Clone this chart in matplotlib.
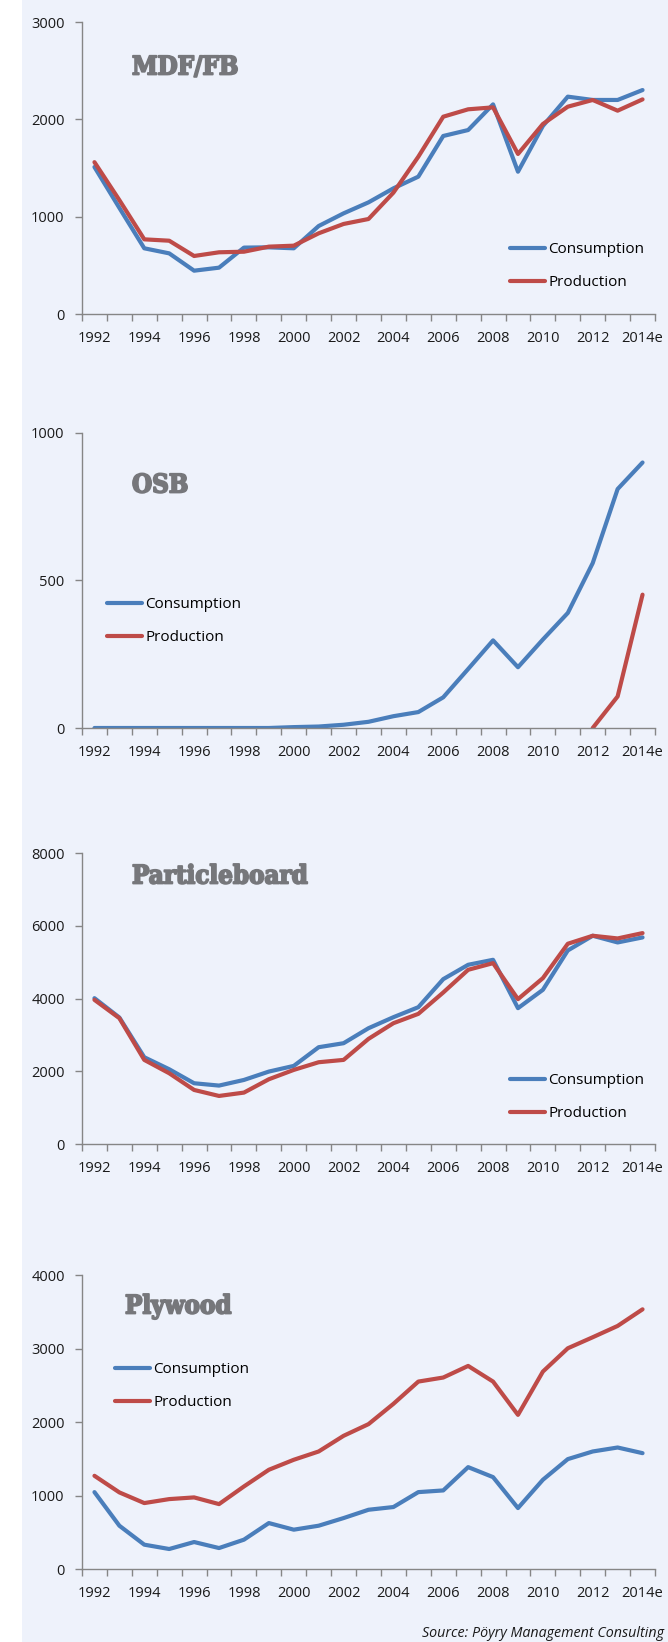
import numpy as np
import matplotlib.pyplot as plt
import matplotlib.patheffects as pe
from matplotlib.patches import Rectangle

# Years on the x axis (categorical, one slot per year)
years = list(range(1992, 2015))
year_labels = ['1992', '1994', '1996', '1998', '2000', '2002', '2004',
               '2006', '2008', '2010', '2012', '2014e']

# MDF/FB, 1000 m3
mdf_cons = [1510, 1090, 675, 623, 445, 476, 682, 685, 675, 904, 1034, 1147,
            1291, 1411, 1829, 1890, 2154, 1462, 1932, 2233, 2199, 2199, 2301]
mdf_prod = [1560, 1170, 767, 753, 596, 634, 640, 692, 702, 829, 925, 976,
            1247, 1616, 2027, 2103, 2123, 1644, 1952, 2130, 2199, 2089, 2205]

# OSB
osb_cons = [0, 0, 0, 0, 0, 0, 0, 0, 3, 5, 11, 21,
            40, 54, 104, 200, 297, 206, 300, 390, 559, 810, 900]
osb_prod = [np.nan] * 20 + [0, 107, 452]

# Particleboard
pb_cons = [4009, 3477, 2385, 2055, 1670, 1606, 1761, 1991, 2147, 2661, 2771, 3183,
           3486, 3761, 4532, 4927, 5064, 3734, 4239, 5321, 5725, 5541, 5679]
pb_prod = [3963, 3459, 2312, 1945, 1486, 1321, 1413, 1780, 2037, 2248, 2312, 2890,
           3321, 3578, 4165, 4789, 4972, 3982, 4560, 5505, 5725, 5651, 5798]

# Plywood
ply_cons = [1046, 589, 331, 272, 367, 285, 399, 625, 535, 589, 693, 806,
            843, 1046, 1069, 1386, 1250, 829, 1214, 1495, 1599, 1653, 1576]
ply_prod = [1268, 1042, 897, 951, 974, 883, 1123, 1350, 1486, 1599, 1812, 1971,
            2247, 2550, 2605, 2763, 2550, 2097, 2686, 3003, 3153, 3307, 3533]

BLUE = '#4a7ebb'
RED = '#be4b48'
AXIS = '#868686'
BG = '#eef2fb'
TITLE = '#76777b'

W, H = 668, 1642
plt.rcParams['font.family'] = ['Open Sans', 'DejaVu Sans']

fig = plt.figure(figsize=(W / 100, H / 100), dpi=100)
fig.patches.append(Rectangle((22 / W, 0), 1 - 22 / W, 1, transform=fig.transFigure,
                             facecolor=BG, edgecolor='none', zorder=-10))


def px_axes(left, top, right, bottom):
    return fig.add_axes([left / W, 1 - bottom / H, (right - left) / W, (bottom - top) / H])


def panel(box, cons, prod, ymax, ystep, title, title_xy, leg_xy):
    ax = px_axes(*box)
    ax.patch.set_alpha(0)
    x = np.arange(len(years))
    ax.plot(x, cons, color=BLUE, lw=3, solid_capstyle='round', label='Consumption')
    ax.plot(x, prod, color=RED, lw=3, solid_capstyle='round', label='Production')
    ax.set_xlim(-0.5, len(years) - 0.5)
    ax.set_ylim(0, ymax)
    for s in ['top', 'right']:
        ax.spines[s].set_visible(False)
    for s in ['left', 'bottom']:
        ax.spines[s].set_color(AXIS)
        ax.spines[s].set_linewidth(1)
    ax.set_yticks(np.arange(0, ymax + 1, ystep))
    ax.tick_params(axis='y', length=5, width=1, color=AXIS, pad=7.5,
                   labelsize=10.5, labelcolor='#1a1a1a')
    # tick marks between the years, labels under every other year
    ax.set_xticks(np.arange(-0.5, len(years), 1))
    ax.set_xticklabels([])
    ax.set_xticks(x[::2], minor=True)
    ax.set_xticklabels(year_labels, minor=True)
    ax.tick_params(axis='x', which='major', length=5, width=1, color=AXIS)
    ax.tick_params(axis='x', which='minor', length=0, pad=12.5,
                   labelsize=10.5, labelcolor='#1a1a1a')
    fig.text(title_xy[0] / W, 1 - title_xy[1] / H, title, ha='left', va='center',
             family='DejaVu Serif', fontstretch='condensed', fontweight='bold',
             fontsize=18.5, color=TITLE,
             path_effects=[pe.withStroke(linewidth=1.3, foreground=TITLE)])
    ax.legend(loc='upper left', bbox_to_anchor=(leg_xy[0] / W, 1 - leg_xy[1] / H),
              bbox_transform=fig.transFigure, frameon=False, fontsize=11,
              handlelength=2.3, handletextpad=0.2, borderpad=0, borderaxespad=0,
              labelspacing=1.2)
    return ax


panel((82, 22, 655, 314), mdf_cons, mdf_prod, 3000, 1000, 'MDF/FB', (132, 67), (510, 242))
panel((82, 433, 655, 728), osb_cons, osb_prod, 1000, 500, 'OSB', (132, 485), (107, 597))
panel((82, 853, 655, 1144), pb_cons, pb_prod, 8000, 2000, 'Particleboard', (132, 876), (510, 1073))
panel((82, 1275, 655, 1569), ply_cons, ply_prod, 4000, 1000, 'Plywood', (125, 1306), (115, 1362))

fig.text(422 / W, 1 - 1633 / H, 'Source: Pöyry Management Consulting', ha='left',
         va='center', style='italic', fontsize=10.3, color='#1a1a1a')

fig.savefig('out.png', dpi=100)
